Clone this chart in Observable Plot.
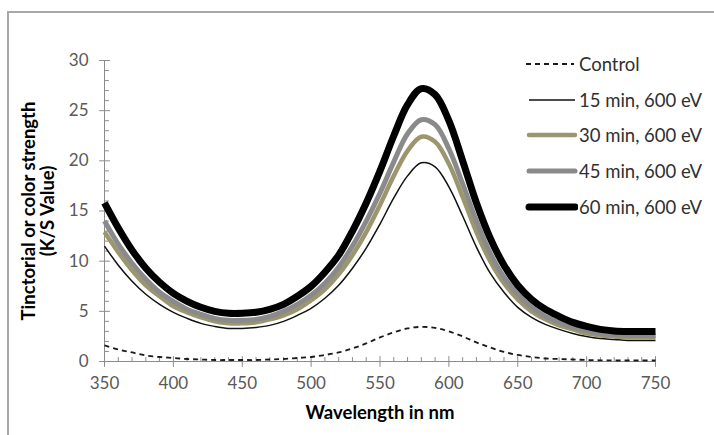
<!DOCTYPE html>
<html><head><meta charset="utf-8">
<script src="https://cdn.jsdelivr.net/npm/d3@7"></script>
<script src="https://cdn.jsdelivr.net/npm/@observablehq/plot@0.6"></script>
<style>
body{margin:0;background:#fff;}
#wrap{position:relative;width:714px;height:435px;overflow:hidden;font-family:Lato,"Open Sans",sans-serif;}
#frame{position:absolute;left:7px;top:11px;width:720px;height:440px;border-left:2px solid #a8a8a8;border-top:2px solid #a8a8a8;}
#chart{position:absolute;left:0;top:0;}
#legend{position:absolute;left:524px;top:46px;}
.row{height:35.7px;display:flex;align-items:center;font-size:18.5px;color:#303030;white-space:nowrap;}
.row svg{margin-right:1px;}
</style></head><body>
<div id="wrap"><div id="frame"></div><div id="chart"></div><div id="legend"></div></div>
<script>
const wavelengths=[350,360,370,380,390,400,410,420,430,440,450,460,470,480,490,500,510,520,530,540,550,560,570,580,590,600,610,620,630,640,650,660,670,680,690,700,710,720,730,740,750];
const control=[1.6,1.2,0.9,0.6,0.45,0.35,0.25,0.2,0.15,0.15,0.15,0.15,0.2,0.25,0.35,0.45,0.65,0.9,1.3,1.8,2.4,2.9,3.3,3.45,3.35,3.0,2.5,1.9,1.4,0.95,0.65,0.45,0.3,0.25,0.2,0.15,0.12,0.1,0.1,0.1,0.1];
const min15=[11.5,9.6,8.0,6.7,5.7,4.9,4.3,3.8,3.5,3.3,3.3,3.4,3.6,4.0,4.6,5.3,6.3,7.6,9.3,11.3,13.7,16.3,18.5,19.8,19.4,17.4,14.5,11.4,8.8,6.9,5.4,4.4,3.7,3.2,2.8,2.5,2.3,2.2,2.1,2.1,2.1];
const min30=[12.9,10.9,9.1,7.6,6.5,5.5,4.9,4.4,4.0,3.8,3.8,3.9,4.2,4.6,5.2,6.1,7.2,8.7,10.6,12.9,15.6,18.5,21.0,22.4,21.9,19.7,16.4,12.9,10.0,7.8,6.2,5.0,4.2,3.6,3.2,2.8,2.6,2.5,2.4,2.4,2.4];
const min45=[14.0,11.7,9.8,8.2,6.9,6.0,5.2,4.7,4.3,4.1,4.1,4.2,4.5,5.0,5.7,6.6,7.8,9.4,11.5,14.0,16.8,19.9,22.7,24.1,23.6,21.2,17.7,14.0,10.8,8.4,6.7,5.4,4.5,3.9,3.4,3.1,2.8,2.7,2.6,2.6,2.6];
const min60=[15.8,13.3,11.1,9.3,7.9,6.8,6.0,5.4,5.0,4.8,4.8,4.9,5.2,5.7,6.5,7.5,8.9,10.6,13.0,15.8,19.0,22.5,25.6,27.2,26.6,24.0,20.0,15.8,12.3,9.6,7.6,6.2,5.2,4.5,3.9,3.5,3.2,3.05,3.0,3.0,3.0];
const seriesNames=["Control","15 min, 600 eV","30 min, 600 eV","45 min, 600 eV","60 min, 600 eV"];
const seriesValues=[control,min15,min30,min45,min60];
const seriesColors=["#1a1a1a","#111111","#9c966f","#8a8a8a","#000000"];
const seriesWidths=[1.8,1.5,4.5,5,7];
const seriesDash=["5,4",null,null,null,null];
const xTicks=[350,400,450,500,550,600,650,700,750];
const yTicks=[0,5,10,15,20,25,30];
const xMinor=d3.range(350,751,10).filter(v=>v%50!==0);
const yMinor=d3.range(0,31,1).filter(v=>v%5!==0);
const xTitle="Wavelength in nm";
const yTitle="Tinctorial or color strength\n(K/S Value)";

const rows=[];
seriesNames.forEach((name,i)=>wavelengths.forEach((w,j)=>rows.push({series:name,wl:w,v:seriesValues[i][j]})));

const axisColor="#8c8c8c";
const tickShape={draw(ctx,l){ctx.moveTo(0,0);ctx.lineTo(0,-l);}};

const lineMarks=seriesNames.map((name,i)=>Plot.line(rows.filter(r=>r.series===name),{
  x:"wl",y:"v",stroke:seriesColors[i],strokeWidth:seriesWidths[i],
  strokeDasharray:seriesDash[i]||undefined,curve:"catmull-rom",strokeLinejoin:"round",strokeLinecap:"butt"}));

const plot=Plot.plot({
  width:714,height:435,marginLeft:104,marginRight:59,marginTop:60,marginBottom:74,
  style:{fontFamily:'Lato,"Open Sans",sans-serif',background:"transparent",overflow:"visible"},
  x:{domain:[350,750]},
  y:{domain:[0,30]},
  marks:[
    Plot.ruleX([350],{stroke:axisColor}),
    Plot.ruleY([0],{stroke:axisColor}),
    Plot.vector(xTicks,{x:d=>d,y:0,length:10,anchor:"middle",rotate:0,shape:tickShape,stroke:axisColor,strokeWidth:1}),
    Plot.vector(xMinor,{x:d=>d,y:0,length:4,anchor:"start",rotate:0,shape:tickShape,stroke:axisColor,strokeWidth:1}),
    Plot.vector(yTicks,{x:350,y:d=>d,length:10,anchor:"middle",rotate:90,shape:tickShape,stroke:axisColor,strokeWidth:1}),
    Plot.vector(yMinor,{x:350,y:d=>d,length:4,anchor:"start",rotate:90,shape:tickShape,stroke:axisColor,strokeWidth:1}),
    Plot.axisX({ticks:xTicks,tickSize:0,tickPadding:15,fontSize:17,color:"#595959",label:null}),
    Plot.axisY({ticks:yTicks,tickSize:0,tickPadding:16,fontSize:17,color:"#595959",label:null}),
    ...lineMarks,
    Plot.text([xTitle],{text:d=>d,frameAnchor:"bottom",dy:57,fontWeight:"bold",fontSize:18.5,fill:"#000"}),
    Plot.text([yTitle],{text:d=>d,frameAnchor:"left",textAnchor:"middle",lineAnchor:"middle",dx:-66,rotate:-90,fontWeight:"bold",fontSize:18.5,lineHeight:1.05,fill:"#000"})
  ]
});
document.getElementById("chart").appendChild(plot);

const legend=document.getElementById("legend");
seriesNames.forEach((name,i)=>{
  const row=document.createElement("div");row.className="row";
  const ns="http://www.w3.org/2000/svg";
  const svg=document.createElementNS(ns,"svg");svg.setAttribute("width","54");svg.setAttribute("height","14");
  const ln=document.createElementNS(ns,"line");
  ln.setAttribute("x1",i===0?"2":"5");ln.setAttribute("x2",i===0?"50":"51");ln.setAttribute("y1","7");ln.setAttribute("y2","7");
  ln.setAttribute("stroke",seriesColors[i]);ln.setAttribute("stroke-width",seriesWidths[i]);
  ln.setAttribute("stroke-linecap",i>=2?"round":"butt");
  if(seriesDash[i])ln.setAttribute("stroke-dasharray",seriesDash[i]);
  svg.appendChild(ln);row.appendChild(svg);
  const sp=document.createElement("span");sp.textContent=name;row.appendChild(sp);
  legend.appendChild(row);
});
</script>
</body></html>
